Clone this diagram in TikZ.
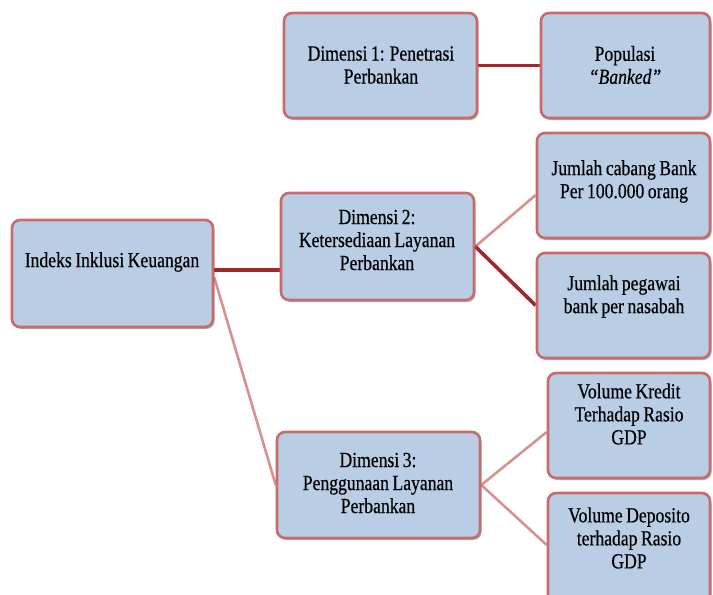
\documentclass[tikz,border=0pt]{standalone}
\usepackage{fontspec}
\setmainfont{Liberation Serif}[FakeStretch=0.82,FakeBold=0.45,WordSpace=0.8]
\usetikzlibrary{shadows,backgrounds}
\definecolor{boxfill}{HTML}{B9CDE5}
\definecolor{boxline}{HTML}{C86C6A}
\definecolor{darkcon}{HTML}{A3262B}
\definecolor{lightcon}{HTML}{D9918F}
\begin{document}
\begin{tikzpicture}[x=1pt,y=-1pt,
  box/.style={draw=boxline, line width=2.6pt, fill=boxfill, rounded corners=8pt, inner sep=0pt,
    drop shadow={shadow xshift=1.5pt, shadow yshift=-2pt, opacity=0.3, fill=black}},
  lbl/.style={align=center, inner sep=0pt, font=\fontsize{21.5}{23}\selectfont, text=black},
  dark/.style={draw=darkcon, line width=3.6pt},
  light/.style={draw=lightcon, line width=2.6pt}]
\useasboundingbox (0,0) rectangle (713,595);
\clip (0,0) rectangle (713,595);

\node[box, minimum width=201pt, minimum height=107pt] (root) at (112.5,273.5) {};
\node[box, minimum width=193pt, minimum height=105pt] (d1) at (380.5,65.5) {};
\node[box, minimum width=169pt, minimum height=105pt] (pop) at (625.5,65.5) {};
\node[box, minimum width=193pt, minimum height=107pt] (d2) at (377.5,246.5) {};
\node[box, minimum width=173pt, minimum height=105pt] (cabang) at (623.5,185.5) {};
\node[box, minimum width=173pt, minimum height=105pt] (pegawai) at (623.5,305.5) {};
\node[box, minimum width=203pt, minimum height=106pt] (d3) at (378.5,485) {};
\node[box, minimum width=162pt, minimum height=105pt] (kredit) at (629,425.5) {};
\node[box, minimum width=162pt, minimum height=112pt] (deposito) at (629,549) {};

\node[lbl] (rootT) at (112,262) {Indeks Inklusi Keuangan};
\node[lbl] (d1T) at (381,65) {Dimensi 1: Penetrasi\\Perbankan};
\node[lbl] (popT) at (625,65) {Populasi\\\textit{“Banked”}};
\node[lbl] (d2T) at (377,240) {Dimensi 2:\\Ketersediaan Layanan\\Perbankan};
\node[lbl] (cabangT) at (624,181.5) {Jumlah cabang Bank\\Per 100.000 orang};
\node[lbl] (pegawaiT) at (624,296.5) {Jumlah pegawai\\bank per nasabah};
\node[lbl] (d3T) at (378,483) {Dimensi 3:\\Penggunaan Layanan\\Perbankan};
\node[lbl] (kreditT) at (629,414) {Volume Kredit\\Terhadap Rasio\\GDP};
\node[lbl] (depositoT) at (629,538) {Volume Deposito\\terhadap Rasio\\GDP};

\begin{pgfonlayer}{background}
\fill[white] (0,0) rectangle (713,595);
\draw[dark] ([yshift=3.5pt]root.east) -- ([yshift=3.5pt]root.east -| d2.west);
\draw[light] ([yshift=-4pt]root.east) -- (d3.west);
\draw[dark] (d1.east) -- (pop.west);
\draw[light] (d2.east) -- ([yshift=-9.5pt]cabang.west);
\draw[dark] (d2.east) -- (pegawai.west);
\draw[light] (d3.east) -- ([yshift=-6.5pt]kredit.west);
\draw[light] (d3.east) -- ([yshift=4pt]deposito.west);
\end{pgfonlayer}
\end{tikzpicture}
\end{document}
